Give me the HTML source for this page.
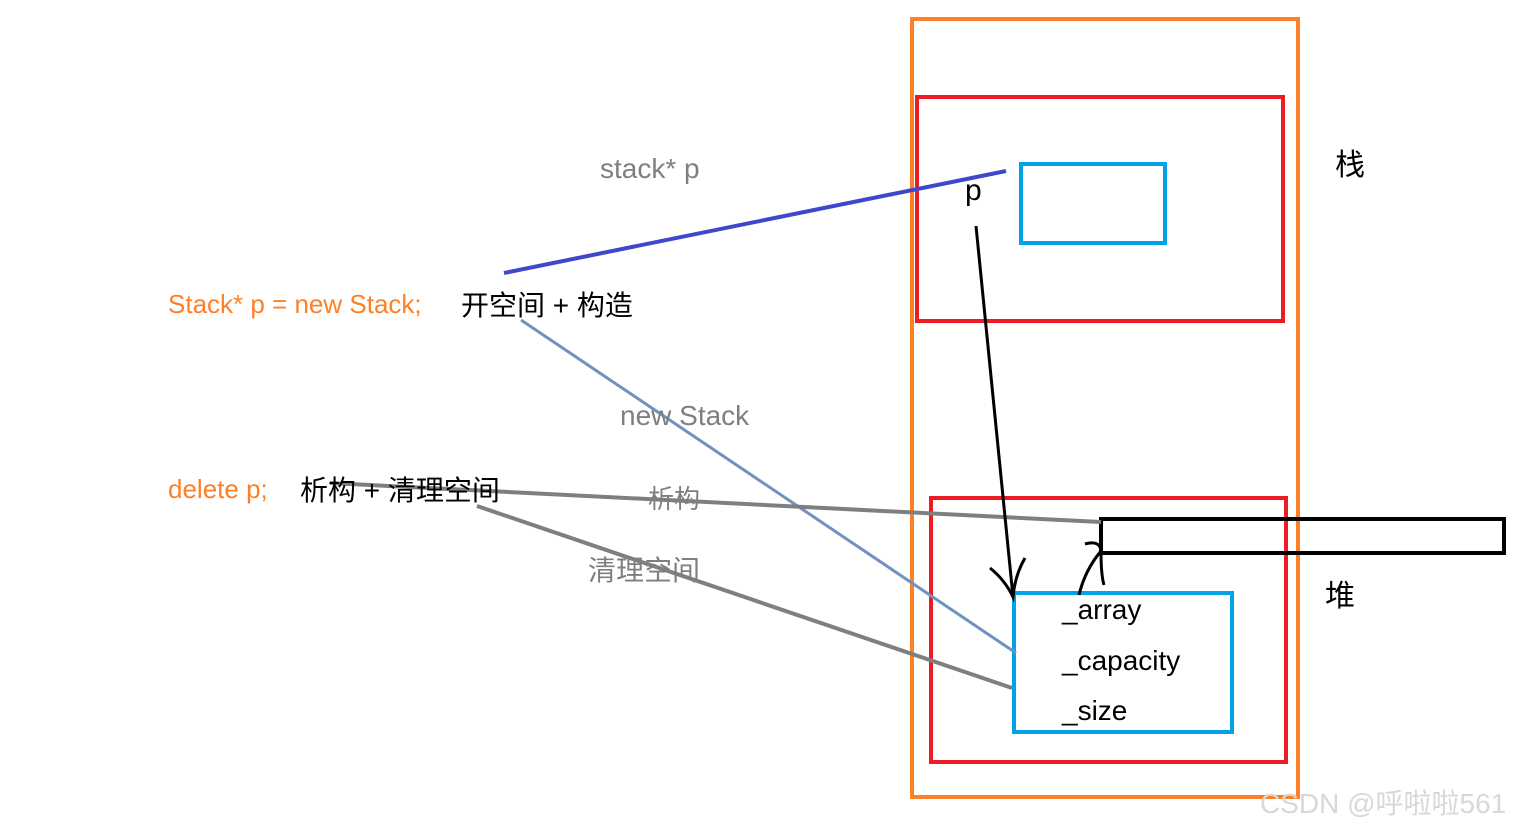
<!DOCTYPE html>
<html><head><meta charset="utf-8"><style>
body{margin:0;width:1518px;height:831px;background:#fff;overflow:hidden;position:relative;font-family:"Liberation Sans","Noto Sans CJK SC",sans-serif}
.t{position:absolute;white-space:nowrap;line-height:1}
</style></head><body>
<svg width="1518" height="831" style="position:absolute;left:0;top:0">
<rect x="912" y="19" width="386" height="778" fill="none" stroke="#ff7f27" stroke-width="4"/>
<rect x="917" y="97" width="366" height="224" fill="none" stroke="#ed1c24" stroke-width="4"/>
<rect x="1021" y="164" width="144" height="79" fill="none" stroke="#00a2e8" stroke-width="4"/>
<rect x="931" y="498" width="355" height="264" fill="none" stroke="#ed1c24" stroke-width="4"/>
<rect x="1014" y="593" width="218" height="139" fill="none" stroke="#00a2e8" stroke-width="4"/>
<rect x="1101" y="519" width="403" height="34" fill="none" stroke="#000" stroke-width="4"/>
<line x1="504" y1="273" x2="1006" y2="171" stroke="#3f48cc" stroke-width="4"/>
<line x1="521" y1="320" x2="1016" y2="653" stroke="#7092be" stroke-width="3"/>
<line x1="330" y1="483" x2="1101" y2="522" stroke="#7f7f7f" stroke-width="4"/>
<line x1="477" y1="506" x2="1012" y2="688" stroke="#7f7f7f" stroke-width="4"/>
<path d="M976 226 L1013 597 M990 568 Q1005 580 1013 597 Q1015 575 1025 558" fill="none" stroke="#000" stroke-width="3"/>
<path d="M1079 595 Q1085 570 1101 551 Q1100 540 1085 544 M1101 551 Q1101 575 1104 585" fill="none" stroke="#000" stroke-width="3"/>
</svg>
<div class="t" style="left:600px;top:155px;font-size:28px;color:#7f7f7f">stack* p</div>
<div class="t" style="left:965px;top:176px;font-size:30px;color:#000">p</div>
<div class="t" style="left:1335px;top:151px;font-size:30px;color:#000">栈</div>
<div class="t" style="left:1325px;top:582px;font-size:30px;color:#000">堆</div>
<div class="t" style="left:168px;top:291px;font-size:26px;color:#ff7f27">Stack* p = new Stack;</div>
<div class="t" style="left:461px;top:292px;font-size:28px;color:#000">开空间 + 构造</div>
<div class="t" style="left:620px;top:402px;font-size:28px;color:#7f7f7f">new Stack</div>
<div class="t" style="left:168px;top:476px;font-size:26px;color:#ff7f27">delete p;</div>
<div class="t" style="left:300px;top:477px;font-size:28px;color:#000">析构 + 清理空间</div>
<div class="t" style="left:648px;top:486px;font-size:26px;color:#7f7f7f">析构</div>
<div class="t" style="left:588px;top:557px;font-size:28px;color:#7f7f7f">清理空间</div>
<div class="t" style="left:1062px;top:596px;font-size:28px;color:#000">_array</div>
<div class="t" style="left:1062px;top:647px;font-size:28px;color:#000">_capacity</div>
<div class="t" style="left:1062px;top:697px;font-size:28px;color:#000">_size</div>
<div class="t" style="left:1260px;top:790px;font-size:28px;color:#d8d8d8">CSDN @呼啦啦561</div>
</body></html>
